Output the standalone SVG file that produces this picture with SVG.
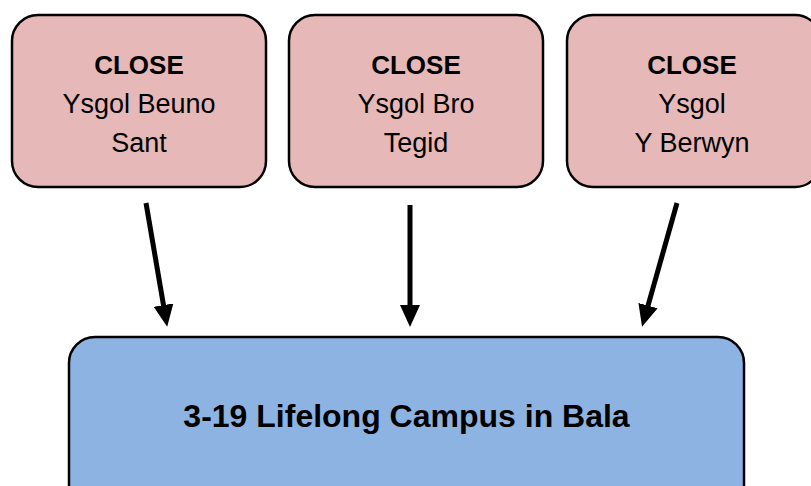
<svg xmlns="http://www.w3.org/2000/svg" width="811" height="486" viewBox="0 0 811 486">
  <defs>
    <style>
      .top { fill: #E6B8B7; stroke: #000; stroke-width: 2.5; }
      .bottom { fill: #8DB3E2; stroke: #000; stroke-width: 2.5; }
      .t { font-family: "Liberation Sans", Arial, sans-serif; font-size: 27px; fill: #000; text-anchor: middle; }
      .b { font-weight: bold; font-size: 26px; }
      .big { font-family: "Liberation Sans", Arial, sans-serif; font-size: 32px; font-weight: bold; fill: #000; text-anchor: middle; }
      .arrow { stroke: #000; stroke-width: 5; fill: none; marker-end: url(#ah); }
    </style>
    <marker id="ah" viewBox="0 0 22 20" refX="6" refY="10" markerWidth="22" markerHeight="20" markerUnits="userSpaceOnUse" orient="auto">
      <path d="M0,0 L22,10 L0,20 Z" fill="#000"/>
    </marker>
  </defs>
  <rect width="811" height="486" fill="#fff"/>

  <g id="node-beuno">
    <rect class="top" x="12" y="15" width="254" height="172" rx="26" ry="26"/>
    <text class="t b" x="139" y="74">CLOSE</text>
    <text class="t" x="139" y="113">Ysgol Beuno</text>
    <text class="t" x="139" y="152">Sant</text>
  </g>

  <g id="node-tegid">
    <rect class="top" x="289" y="15" width="254" height="172" rx="26" ry="26"/>
    <text class="t b" x="416" y="74">CLOSE</text>
    <text class="t" x="416" y="113">Ysgol Bro</text>
    <text class="t" x="416" y="152">Tegid</text>
  </g>

  <g id="node-berwyn">
    <rect class="top" x="567" y="15" width="254" height="172" rx="26" ry="26"/>
    <text class="t b" x="692" y="74">CLOSE</text>
    <text class="t" x="692" y="113">Ysgol</text>
    <text class="t" x="692" y="152">Y Berwyn</text>
  </g>

  <g id="node-campus">
    <rect class="bottom" x="69" y="337" width="675" height="180" rx="26" ry="26"/>
    <text class="big" x="406.5" y="427">3-19 Lifelong Campus in Bala</text>
  </g>

  <g id="connectors">
    <line class="arrow" x1="146" y1="203" x2="164.5" y2="311"/>
    <line class="arrow" x1="410" y1="205" x2="410" y2="311"/>
    <line class="arrow" x1="677" y1="203" x2="646.4" y2="311.4"/>
  </g>
</svg>
